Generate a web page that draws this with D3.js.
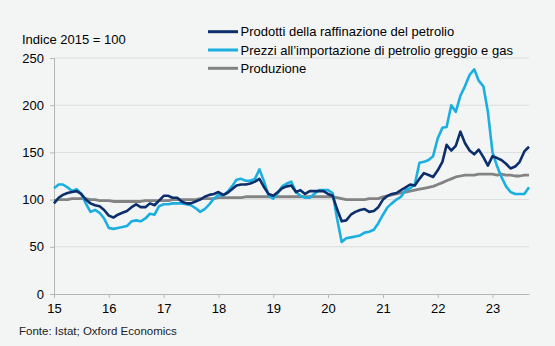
<!DOCTYPE html>
<html>
<head>
<meta charset="utf-8">
<script src="https://cdn.jsdelivr.net/npm/d3@7"></script>
<style>
  body { margin: 0; background: #f3f5f5; }
  svg { display: block; font-family: "Liberation Sans", Arial, sans-serif; }
</style>
</head>
<body>
<div class="chart"></div>
<script>
// monthly index, 2015 = 100, Jan 2015 .. Sep 2023
const firstMonth = new Date(2015, 0, 1)

const raffinazione = [
  96, 102, 105, 107, 108, 109, 106, 100, 96, 94, 93, 89,
  83, 81, 84, 86, 88, 92, 95, 92, 92, 96, 94, 99,
  104, 104, 102, 102, 98, 96, 96, 98, 100, 103, 105, 106,
  108, 105, 107, 111, 115, 116, 116, 117, 119, 122, 113, 106,
  104, 108, 112, 114, 115, 108, 110, 106, 109, 109, 109, 109,
  106, 104, 90, 77, 78, 84, 87, 89, 90, 87, 88, 92,
  100, 104, 106, 107, 110, 113, 116, 115, 122, 128, 126, 124,
  131, 140, 158, 152, 157, 172, 160, 152, 148, 153, 145, 136,
  146, 144, 142, 138, 133, 135, 140, 151, 156,
]

const importazione = [
  112, 116, 116, 113, 109, 111, 106, 96, 87, 89, 86, 80,
  70, 69, 70, 71, 72, 77, 78, 77, 80, 85, 84, 93,
  95, 95, 96, 96, 96, 95, 94, 91, 87, 90, 95, 101,
  105, 104, 108, 114, 121, 122, 120, 120, 122, 132, 119, 104,
  101, 107, 114, 117, 119, 108, 104, 102, 102, 106, 110, 110,
  110, 107, 80, 55, 59, 60, 61, 62, 65, 66, 68, 75,
  84, 92, 96, 100, 103, 110, 112, 116, 139, 140, 142, 146,
  165, 176, 177, 200, 193, 210, 220, 232, 238, 226, 220, 193,
  150, 135, 124, 114, 108, 106, 106, 106, 113,
]

const produzione = [
  99, 100, 100, 100, 101, 101, 101, 101, 100, 100, 99, 99,
  99, 98, 98, 98, 98, 98, 98, 98, 99, 99, 99, 99,
  99, 99, 100, 100, 100, 100, 100, 100, 101, 101, 101, 101,
  102, 102, 102, 102, 102, 102, 103, 103, 103, 103, 103, 103,
  103, 103, 103, 103, 103, 103, 103, 103, 103, 103, 103, 103,
  103, 103, 102, 101, 100, 100, 100, 100, 100, 101, 101, 101,
  103, 104, 105, 106, 107, 108, 109, 110, 111, 112, 113, 114,
  116, 118, 120, 122, 124, 125, 126, 126, 126, 127, 127, 127,
  127, 126, 127, 126, 126, 125, 125, 126, 126,
]

const seriesNames = [
  "Prodotti della raffinazione del petrolio",
  "Prezzi all\u2019importazione di petrolio greggio e gas",
  "Produzione",
]
const seriesColors = ["#0c2f6b", "#1aafe0", "#838383"]

const yTicks = [0, 50, 100, 150, 200, 250]
const yearTicks = [2015, 2016, 2017, 2018, 2019, 2020, 2021, 2022, 2023]

const width = 555
const height = 346
const margin = { top: 58, right: 26, bottom: 52, left: 54 }

const svg = d3
  .select(".chart")
  .append("svg")
  .attr("width", width)
  .attr("height", height)

svg.append("rect").attr("width", width).attr("height", height).attr("fill", "#f3f5f5")

const months = d3.range(raffinazione.length).map((i) => d3.timeMonth.offset(firstMonth, i))

const x = d3
  .scaleTime()
  .domain([months[0], months[months.length - 1]])
  .range([margin.left, width - margin.right])

const y = d3
  .scaleLinear()
  .domain([0, 250])
  .range([height - margin.bottom, margin.top])

// gridlines
svg
  .append("g")
  .selectAll("line")
  .data(yTicks.filter((d) => d > 0))
  .join("line")
  .attr("x1", margin.left)
  .attr("x2", width - margin.right)
  .attr("y1", (d) => y(d))
  .attr("y2", (d) => y(d))
  .attr("stroke", "#dcdcdc")
  .attr("stroke-width", 1)

// y axis
svg
  .append("g")
  .attr("transform", `translate(${margin.left},0)`)
  .call(d3.axisLeft(y).tickValues(yTicks).tickSize(4).tickPadding(6))
  .call((g) => g.select(".domain").attr("stroke", "#b5b5b5"))
  .call((g) => g.selectAll(".tick line").attr("stroke", "#b5b5b5"))
  .call((g) => g.selectAll("text").attr("font-size", 13).attr("fill", "#000").attr("font-family", "Liberation Sans, Arial, sans-serif"))

// x axis
svg
  .append("g")
  .attr("transform", `translate(0,${height - margin.bottom})`)
  .call(
    d3
      .axisBottom(x)
      .tickValues(yearTicks.map((yr) => new Date(yr, 0, 1)))
      .tickFormat((d) => String(d.getFullYear()).slice(2))
      .tickSize(4)
      .tickPadding(6)
      .tickSizeOuter(0),
  )
  .call((g) => g.select(".domain").attr("stroke", "#b5b5b5"))
  .call((g) => g.selectAll(".tick line").attr("stroke", "#b5b5b5"))
  .call((g) => g.selectAll("text").attr("font-size", 13).attr("fill", "#000").attr("font-family", "Liberation Sans, Arial, sans-serif"))

// lines: grey first, then light blue, dark on top
const line = d3
  .line()
  .x((d, i) => x(months[i]))
  .y((d) => y(d))

const allSeries = [raffinazione, importazione, produzione]
const drawOrder = [2, 1, 0]

svg
  .append("g")
  .selectAll("path")
  .data(drawOrder)
  .join("path")
  .attr("d", (k) => line(allSeries[k]))
  .attr("fill", "none")
  .attr("stroke", (k) => seriesColors[k])
  .attr("stroke-width", (k) => (k === 2 ? 2.8 : 2.6))
  .attr("stroke-linejoin", "round")

// legend
const legend = svg
  .append("g")
  .selectAll("g")
  .data(seriesNames)
  .join("g")
  .attr("transform", (d, i) => `translate(208,${31.7 + i * 18.3})`)

legend
  .append("line")
  .attr("x1", 0)
  .attr("x2", 30)
  .attr("stroke", (d, i) => seriesColors[i])
  .attr("stroke-width", 3)

legend
  .append("text")
  .attr("x", 32.5)
  .attr("dy", "0.35em")
  .attr("font-size", 13)
  .text((d) => d)

// title and source
svg
  .append("text")
  .attr("x", 22)
  .attr("y", 44)
  .attr("font-size", 13)
  .text("Indice 2015 = 100")

svg
  .append("text")
  .attr("x", 19)
  .attr("y", 335)
  .attr("font-size", 11.5)
  .attr("fill", "#222")
  .text("Fonte: Istat; Oxford Economics")
</script>
</body>
</html>
